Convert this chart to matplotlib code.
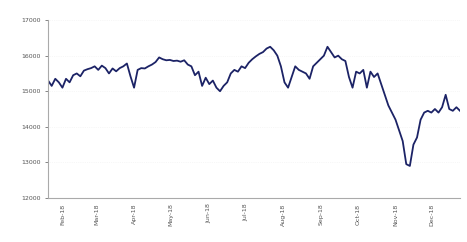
import matplotlib
matplotlib.use("Agg")
import matplotlib.pyplot as plt
import matplotlib.dates as mdates
import pandas as pd

values = [15300, 15150, 15350, 15250, 15100,
          15350, 15250, 15450,
          15500, 15420, 15580, 15620, 15650, 15700,
          15600, 15720, 15650, 15500, 15640, 15560, 15650,
          15700, 15780, 15420, 15100, 15600,
          15650, 15640, 15700, 15750, 15820, 15950,
          15900, 15870, 15880, 15850, 15860, 15830, 15870,
          15750, 15700, 15450, 15550, 15150,
          15380, 15200, 15300, 15100, 15000, 15150, 15250, 15500,
          15600, 15550, 15700, 15650, 15800, 15900,
          15980, 16050, 16100, 16200, 16250, 16150, 16000, 15700, 15250, 15100,
          15400, 15700, 15600, 15550, 15500, 15350, 15700, 15800, 15900,
          16000, 16250, 16100, 15950, 16000, 15900, 15850, 15400, 15100,
          15550, 15500, 15600, 15100, 15550, 15400, 15500, 15200, 14900,
          14600, 14400, 14200, 13900, 13600, 12950, 12900, 13500, 13700, 14200,
          14400, 14450, 14400, 14500, 14400, 14550, 14900, 14500, 14450, 14550, 14450]
start_date = "2018-01-20"
end_date = "2018-12-24"
yticks = [12000, 13000, 14000, 15000, 16000, 17000]

dates = pd.date_range(start_date, end_date, periods=len(values))

fig = plt.figure(figsize=(4.67, 2.42), dpi=100)
ax = fig.add_axes([0.103, 0.182, 0.882, 0.735])
ax.plot(dates, values, color="#1c2366", lw=1.3)
ax.set_ylim(12000, 17000)
ax.set_xlim(pd.Timestamp(start_date), pd.Timestamp(end_date))
ax.set_yticks(yticks)
ax.set_yticklabels([f"{v}" for v in yticks])
ax.xaxis.set_major_locator(mdates.MonthLocator(bymonthday=1))
ax.xaxis.set_major_formatter(mdates.DateFormatter("%b-%y"))
for lab in ax.get_xticklabels():
    lab.set_rotation(90)
ax.tick_params(axis="both", labelsize=4.5, colors="#555555", length=2, width=0.5)
ax.tick_params(axis="x", length=0, pad=4)
for s in ["top", "right"]:
    ax.spines[s].set_visible(False)
for s in ["left", "bottom"]:
    ax.spines[s].set_color("#aaaaaa")
    ax.spines[s].set_linewidth(0.8)
ax.grid(axis="y", color="#f0f0f0", lw=0.5, ls=":")
fig.savefig("out.png", dpi=100)
